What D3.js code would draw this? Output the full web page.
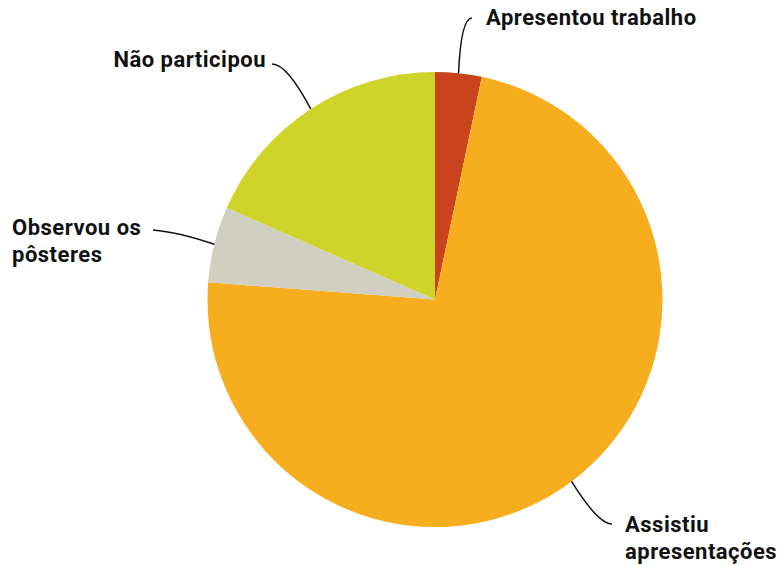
<!DOCTYPE html>
<html>
<head>
<meta charset="utf-8">
<script src="https://cdn.jsdelivr.net/npm/d3@7"></script>
<style>
  body { margin: 0; background: #fff; }
  text { font-family: Roboto, "Noto Sans", sans-serif; font-weight: 700; fill: #111; letter-spacing: 0.5px; }
</style>
</head>
<body>
<div id="chart"></div>
<script>
// data (percent)
const categories = ["Apresentou trabalho", "Assistiu apresentações", "Observou os pôsteres", "Não participou"];
const values = [3.3, 72.9, 5.4, 18.4];
const colors = ["#C9441C", "#F6AE1F", "#D0CFC2", "#CFD42A"];

// label lines + where leader lines end (layout only)
const labelLines = [["Apresentou trabalho"], ["Assistiu", "apresentações"], ["Observou os", "pôsteres"], ["Não participou"]];
const labelPos = [
  { x: 486, y: 25, anchor: "start", end: [472, 18], ctrl: [461, 18] },
  { x: 625, y: 532, anchor: "start", end: [612, 524], ctrl: [598, 524] },
  { x: 12, y: 235, anchor: "start", end: [153, 230], ctrl: [178, 232] },
  { x: 266, y: 67, anchor: "end", end: [272, 64], ctrl: [287, 64] }
];

const width = 778, height = 565;
const cx = 435, cy = 299.5, radius = 227.5;

const svg = d3.select("#chart").append("svg")
  .attr("width", width)
  .attr("height", height);

const g = svg.append("g").attr("transform", `translate(${cx},${cy})`);

const pie = d3.pie().sort(null).value(d => d);
const arcs = pie(values);
const arc = d3.arc().innerRadius(0).outerRadius(radius);

g.selectAll("path.slice")
  .data(arcs)
  .enter().append("path")
  .attr("class", "slice")
  .attr("d", arc)
  .attr("fill", (d, i) => colors[i]);

// leader lines from the middle of each slice edge
arcs.forEach((d, i) => {
  const a = (d.startAngle + d.endAngle) / 2;
  const sx = cx + radius * Math.sin(a);
  const sy = cy - radius * Math.cos(a);
  const p = labelPos[i];
  const path = d3.path();
  path.moveTo(sx, sy);
  path.quadraticCurveTo(p.ctrl[0], p.ctrl[1], p.end[0], p.end[1]);
  svg.append("path")
    .attr("d", path.toString())
    .attr("fill", "none")
    .attr("stroke", "#111")
    .attr("stroke-width", 1.5);
});

labelPos.forEach((p, i) => {
  const t = svg.append("text")
    .attr("x", p.x)
    .attr("y", p.y)
    .attr("text-anchor", p.anchor)
    .style("font-size", "22px");
  labelLines[i].forEach((line, j) => {
    t.append("tspan")
      .attr("x", p.x)
      .attr("dy", j === 0 ? 0 : 27)
      .text(line);
  });
});
</script>
</body>
</html>
